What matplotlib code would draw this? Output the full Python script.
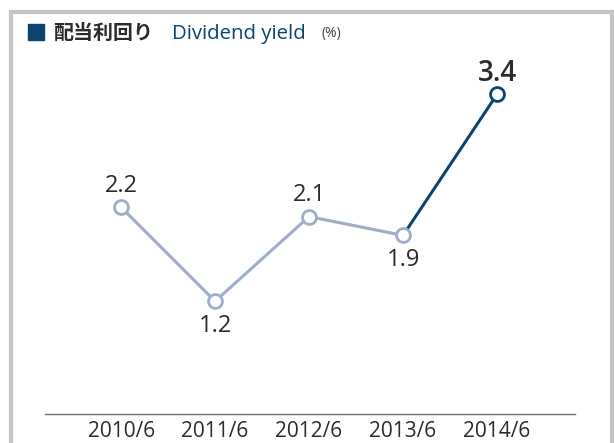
import matplotlib.pyplot as plt
from matplotlib.patches import Rectangle

plt.rcParams['font.family'] = ['Open Sans', 'Noto Sans CJK JP', 'DejaVu Sans']

years = ["2010/6", "2011/6", "2012/6", "2013/6", "2014/6"]
yields = [2.2, 1.2, 2.1, 1.9, 3.4]
label_above = [True, False, True, False, True]

light = "#9eadc8"
navy = "#0b4473"
text_col = "#2b2b2b"

fig = plt.figure(figsize=(6.14, 4.43), dpi=100)
W, H = 614, 443

# gray frame
fig.patches.append(Rectangle((11 / W, -0.05), 601 / W, 1.05 - 12 / H,
                             transform=fig.transFigure, fill=False,
                             edgecolor="#c4c4c4", linewidth=3))

# title
fig.patches.append(Rectangle((28 / W, 1 - 40 / H), 16 / W, 16 / H,
                             transform=fig.transFigure, color=navy))
fig.text(53 / W, 1 - 39 / H, "配当利回り", fontsize=14.4, fontweight="bold",
         color=text_col, va="baseline", family=["Noto Sans CJK JP"])
fig.text(172 / W, 1 - 39 / H, "Dividend yield", fontsize=14.7,
         color=navy, va="baseline")
fig.text(322 / W, 1 - 37 / H, "(%)", fontsize=10, color="#444444",
         va="baseline")

ax = fig.add_axes([45 / W, 1 - 414 / H, 530 / W, 354 / H])
x = list(range(len(years)))

ax.plot(x[:4], yields[:4], color=light, linewidth=2.2, zorder=2)
ax.plot(x[3:], yields[3:], color=navy, linewidth=2.2, zorder=2)
for i in x:
    ec = navy if i == 4 else light
    ax.plot(x[i], yields[i], "o", markersize=10, markerfacecolor="white",
            markeredgecolor=ec, markeredgewidth=2, zorder=3)
    if i == 4:
        ax.annotate(f"{yields[i]}", (x[i], yields[i]), xytext=(0, 10),
                    textcoords="offset points", ha="center", va="baseline",
                    fontsize=20, fontweight="semibold", color=text_col)
    elif label_above[i]:
        ax.annotate(f"{yields[i]}", (x[i], yields[i]), xytext=(0, 11),
                    textcoords="offset points", ha="center", va="baseline",
                    fontsize=17, color=text_col)
    else:
        ax.annotate(f"{yields[i]}", (x[i], yields[i]), xytext=(0, -22),
                    textcoords="offset points", ha="center", va="baseline",
                    fontsize=17, color=text_col)

ax.set_xlim(-0.81, 4.83)
ax.set_ylim(0, 3.766)
ax.set_xticks(x)
ax.set_xticklabels(years, fontsize=15, color=text_col)
ax.tick_params(axis="x", length=0, pad=5)
ax.set_yticks([])
for s in ["top", "left", "right"]:
    ax.spines[s].set_visible(False)
ax.spines["bottom"].set_color("#6e6e6e")
ax.spines["bottom"].set_linewidth(1)

fig.savefig("out.png", dpi=100)
